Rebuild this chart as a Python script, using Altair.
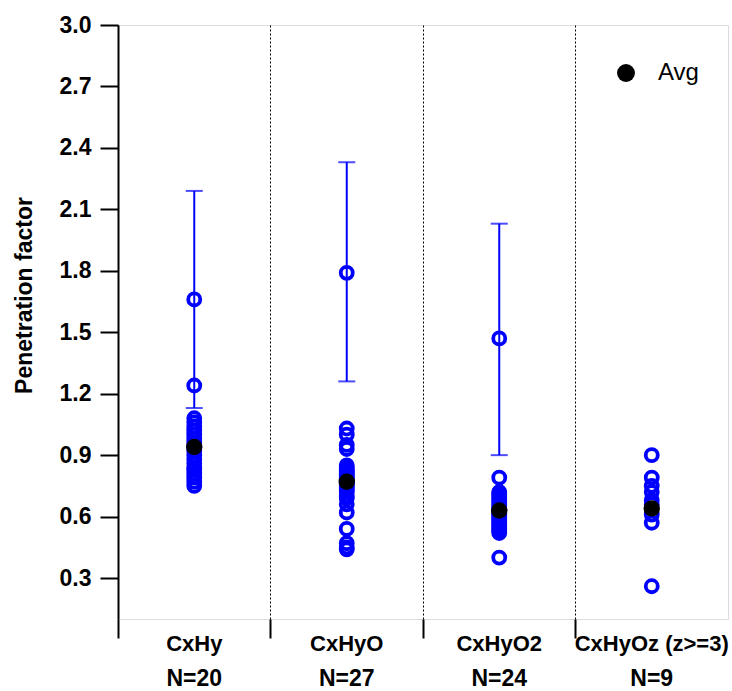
import altair as alt
import pandas as pd

# ---- data ----
categories = ["CxHy", "CxHyO", "CxHyO2", "CxHyOz (z>=3)"]
counts = [20, 27, 24, 9]

vals_cxhy = [1.66, 1.24, 1.08, 1.06, 1.04, 1.02, 1.00, 0.98, 0.96, 0.94,
             0.92, 0.90, 0.88, 0.86, 0.84, 0.83, 0.81, 0.79, 0.77, 0.75]
vals_cxhyo = [1.79, 1.03, 1.00, 0.95, 0.93, 0.85, 0.84, 0.83, 0.82, 0.81,
              0.80, 0.79, 0.78, 0.77, 0.76, 0.75, 0.74, 0.73, 0.72, 0.70,
              0.69, 0.66, 0.62, 0.54, 0.47, 0.45, 0.44]
vals_cxhyo2 = [1.47, 0.79, 0.72, 0.71, 0.70, 0.69, 0.68, 0.67, 0.66, 0.65,
               0.64, 0.63, 0.62, 0.61, 0.60, 0.59, 0.58, 0.57, 0.56, 0.55,
               0.54, 0.53, 0.52, 0.40]
vals_cxhyoz = [0.90, 0.79, 0.75, 0.72, 0.68, 0.66, 0.61, 0.57, 0.26]

avg_values = [0.94, 0.77, 0.63, 0.64]
err_low = [1.13, 1.26, 0.90]
err_high = [2.19, 2.33, 2.03]
err_cats = ["CxHy", "CxHyO", "CxHyO2"]

y_ticks = [0.3, 0.6, 0.9, 1.2, 1.5, 1.8, 2.1, 2.4, 2.7, 3.0]

# ---- tables ----
all_vals = [vals_cxhy, vals_cxhyo, vals_cxhyo2, vals_cxhyoz]
pts = pd.DataFrame(
    [{"cat": c, "v": v} for c, vs in zip(categories, all_vals) for v in vs]
)
avg = pd.DataFrame({"cat": categories, "avg": avg_values, "series": ["Avg"] * 4})
err = pd.DataFrame({"cat": err_cats, "lo": err_low, "hi": err_high})
lab = pd.DataFrame({"cat": categories, "n": [f"N={n}" for n in counts]})

FONT = "Liberation Sans"
BLUE = "#0000ff"

xscale = alt.Scale(domain=categories, paddingInner=0, paddingOuter=0)
x_axis = alt.X(
    "cat:N",
    scale=xscale,
    axis=alt.Axis(
        title=None, labels=False, bandPosition=0, domain=False,
        ticks=True, tickSize=19, tickWidth=2, tickColor="black",
        grid=True, gridColor="black", gridDash=[2, 2], gridWidth=1, gridOpacity=1,
    ),
)
x_plain = alt.X("cat:N", scale=xscale)

yscale = alt.Scale(domain=[0.1, 3.0], nice=False, zero=False)
y_axis = alt.Y(
    "v:Q",
    scale=yscale,
    axis=alt.Axis(
        title="Penetration factor", values=y_ticks, format=".1f", grid=False,
        domain=True, domainColor="black", domainWidth=2,
        ticks=True, tickSize=18, tickWidth=2, tickColor="black",
        labelFont=FONT, labelFontSize=23, labelFontWeight="bold", labelColor="black",
        labelPadding=9,
        titleFont=FONT, titleFontSize=23, titleFontWeight="bold", titleColor="black",
        titleX=-87, titleY=270, titleAngle=270, titleAlign="center",
        titleBaseline="alphabetic",
    ),
)

rules = alt.Chart(err).mark_rule(color=BLUE, strokeWidth=2).encode(
    x=x_plain, y=alt.Y("lo:Q", scale=yscale), y2="hi:Q"
)
cap_lo = alt.Chart(err).mark_tick(color=BLUE, thickness=2, size=17).encode(
    x=x_plain, y=alt.Y("lo:Q", scale=yscale)
)
cap_hi = alt.Chart(err).mark_tick(color=BLUE, thickness=2, size=17).encode(
    x=x_plain, y=alt.Y("hi:Q", scale=yscale)
)

points = alt.Chart(pts).mark_point(
    shape="circle", filled=False, size=145, strokeWidth=3.8, color=BLUE, opacity=1
).encode(x=x_axis, y=y_axis)

avg_pts = alt.Chart(avg).mark_point(
    shape="circle", filled=True, size=270, opacity=1
).encode(
    x=x_plain,
    y=alt.Y("avg:Q", scale=yscale),
    color=alt.Color(
        "series:N",
        scale=alt.Scale(domain=["Avg"], range=["black"]),
        legend=alt.Legend(
            title=None, orient="none", legendX=496, legendY=36, padding=0,
            symbolType="circle", symbolSize=320, symbolStrokeWidth=0,
            labelFont=FONT, labelFontSize=24, labelColor="black", labelOffset=20,
        ),
    ),
)

cat_text = alt.Chart(lab).mark_text(
    font=FONT, fontSize=22, fontWeight="bold", color="black", baseline="alphabetic"
).encode(x=x_plain, y=alt.value(626), text="cat:N")

n_text = alt.Chart(lab).mark_text(
    font=FONT, fontSize=23, fontWeight="bold", color="black", baseline="alphabetic"
).encode(x=x_plain, y=alt.value(661), text="n:N")

chart = (
    alt.layer(points, rules, cap_lo, cap_hi, avg_pts, cat_text, n_text)
    .properties(
        width=610, height=594,
        autosize=alt.AutoSizeParams(type="none"),
        padding={"left": 118, "top": 25, "right": 4, "bottom": 72},
    )
    .configure_view(stroke="black", strokeWidth=2)
    .configure(background="white")
)

chart.save("out.html", embed_options={"renderer": "svg", "actions": False})
